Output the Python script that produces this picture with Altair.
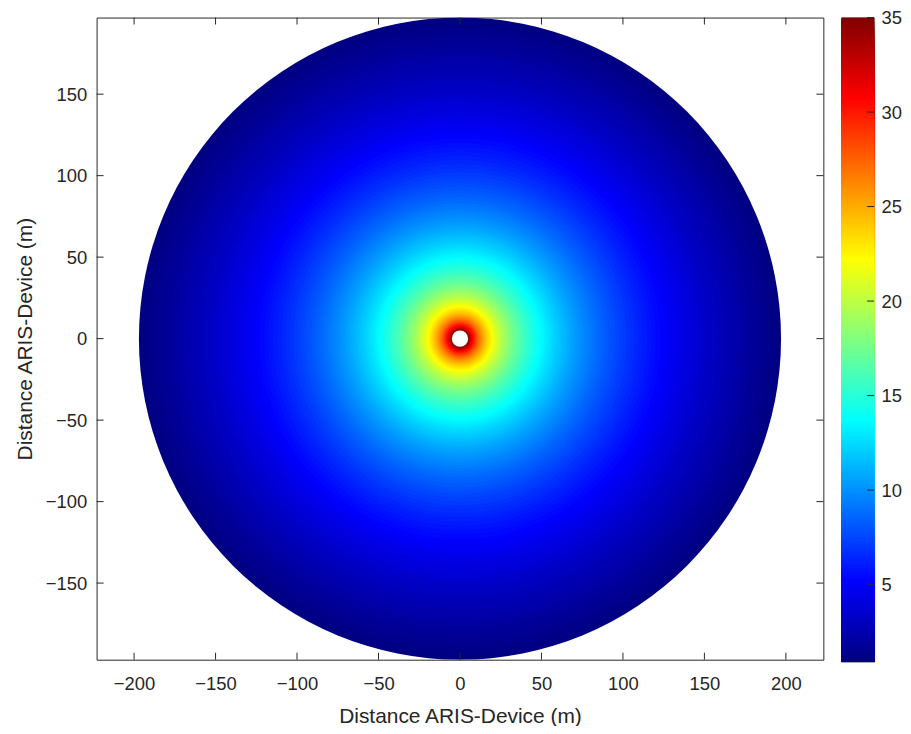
import math
import altair as alt
import pandas as pd
import numpy as np

# ---- data -----------------------------------------------------------------
# ring radius (m) and the value shown at that radius
RADII = [5.012, 5.129, 5.248, 5.370, 5.495, 5.623, 5.754, 5.888, 6.026, 6.166,
         6.310, 6.457, 6.607, 6.761, 6.918, 7.079, 7.244, 7.413, 7.586, 7.762,
         7.943, 8.128, 8.318, 8.511, 8.710, 8.913, 9.120, 9.333, 9.550, 9.772,
         10.00, 10.23, 10.47, 10.72, 10.96, 11.22, 11.48, 11.75, 12.02, 12.30,
         12.59, 12.88, 13.18, 13.49, 13.80, 14.13, 14.45, 14.79, 15.14, 15.49,
         15.85, 16.22, 16.60, 16.98, 17.38, 17.78, 18.20, 18.62, 19.05, 19.50,
         19.95, 20.42, 20.89, 21.38, 21.88, 22.39, 22.91, 23.44, 23.99, 24.55,
         25.12, 25.70, 26.30, 26.92, 27.54, 28.18, 28.84, 29.51, 30.20, 30.90,
         31.62, 32.36, 33.11, 33.88, 34.67, 35.48, 36.31, 37.15, 38.02, 38.90,
         39.81, 40.74, 41.69, 42.66, 43.65, 44.67, 45.71, 46.77, 47.86, 48.98,
         50.12, 51.29, 52.48, 53.70, 54.95, 56.23, 57.54, 58.88, 60.26, 61.66,
         63.10, 64.57, 66.07, 67.61, 69.18, 70.79, 72.44, 74.13, 75.86, 77.62,
         79.43, 81.28, 83.18, 85.11, 87.10, 89.13, 91.20, 93.33, 95.50, 97.72,
         100.0, 102.3, 104.7, 107.2, 109.6, 112.2, 114.8, 117.5, 120.2, 123.0,
         125.9, 128.8, 131.8, 134.9, 138.0, 141.3, 144.5, 147.9, 151.4, 154.9,
         158.5, 162.2, 166.0, 169.8, 173.8, 177.8, 182.0, 186.2, 190.5, 195.0,
         197.0]
VALUES = [34.98, 34.77, 34.55, 34.34, 34.13, 33.91, 33.70, 33.49, 33.27, 33.06,
          32.85, 32.63, 32.42, 32.21, 32.00, 31.78, 31.57, 31.36, 31.14, 30.93,
          30.72, 30.51, 30.29, 30.08, 29.87, 29.65, 29.44, 29.23, 29.01, 28.80,
          28.59, 28.38, 28.16, 27.95, 27.74, 27.52, 27.31, 27.10, 26.88, 26.67,
          26.46, 26.25, 26.03, 25.82, 25.61, 25.39, 25.18, 24.97, 24.75, 24.54,
          24.33, 24.12, 23.90, 23.69, 23.48, 23.26, 23.05, 22.84, 22.62, 22.41,
          22.20, 21.99, 21.77, 21.56, 21.35, 21.13, 20.92, 20.71, 20.49, 20.28,
          20.07, 19.86, 19.64, 19.43, 19.22, 19.00, 18.79, 18.58, 18.36, 18.15,
          17.94, 17.73, 17.51, 17.30, 17.09, 16.87, 16.66, 16.45, 16.23, 16.02,
          15.81, 15.60, 15.38, 15.17, 14.96, 14.74, 14.53, 14.32, 14.10, 13.89,
          13.68, 13.47, 13.25, 13.04, 12.83, 12.61, 12.40, 12.19, 11.97, 11.76,
          11.55, 11.34, 11.12, 10.91, 10.70, 10.48, 10.27, 10.06, 9.84, 9.63,
          9.42, 9.21, 8.99, 8.78, 8.57, 8.35, 8.14, 7.93, 7.71, 7.50,
          7.29, 7.08, 6.86, 6.65, 6.44, 6.22, 6.01, 5.80, 5.58, 5.37,
          5.16, 4.95, 4.73, 4.52, 4.31, 4.09, 3.88, 3.67, 3.45, 3.24,
          3.03, 2.82, 2.60, 2.39, 2.18, 1.96, 1.75, 1.54, 1.32, 1.11,
          0.92]
HOLE_RADIUS = [5.0]

X_TICKS = [-200, -150, -100, -50, 0, 50, 100, 150, 200]
Y_TICKS = [-150, -100, -50, 0, 50, 100, 150]
CBAR_TICKS = [5, 10, 15, 20, 25, 30, 35]

X_DOMAIN = [-223, 223]
Y_DOMAIN = [-197, 197]
V_MIN, V_MAX = 0.92, 35.0

AXIS_TITLE = "Distance ARIS-Device (m)"

# ---- styling ---------------------------------------------------------------
W, H = 730, 645
CB_W, CB_H = 33, 647
TICK_LEN = 7
AX = "#262626"
FONT = "Liberation Sans"
LABEL_SIZE = 18.5
TITLE_SIZE = 21

JET_POS = [0.0, 0.125, 0.375, 0.625, 0.875, 1.0]
JET_COLORS = ["#000080", "#0000ff", "#00ffff", "#ffff00", "#ff0000", "#800000"]
jet_domain = [V_MIN + p * (V_MAX - V_MIN) for p in JET_POS]
color_scale = alt.Scale(domain=jet_domain, range=JET_COLORS, interpolate="rgb")

xscale = alt.Scale(domain=X_DOMAIN, nice=False, zero=False)
yscale = alt.Scale(domain=Y_DOMAIN, nice=False, zero=False)
rscale = alt.Scale(type="linear", domain=[0, Y_DOMAIN[1]], range=[0, H / 2])

x_axis = alt.Axis(values=X_TICKS, title=AXIS_TITLE, ticks=False, domain=False,
                  grid=False, labelPadding=15, titlePadding=13, labelFlush=False,
                  labelOverlap=False)
y_axis = alt.Axis(values=Y_TICKS, title=AXIS_TITLE, ticks=False, domain=False,
                  grid=False, labelPadding=10, titlePadding=10, labelFlush=False,
                  labelOverlap=False)

rings = pd.DataFrame({"r": RADII, "v": VALUES}).sort_values("r", ascending=False)
hole = pd.DataFrame({"r": HOLE_RADIUS})

disks = alt.Chart(rings).mark_arc(theta=0, theta2=2 * math.pi, clip=True).encode(
    x=alt.XDatum(0, scale=xscale, axis=x_axis),
    y=alt.YDatum(0, scale=yscale, axis=y_axis),
    radius=alt.Radius("r:Q", scale=rscale, stack=False),
    color=alt.Color("v:Q", scale=color_scale, legend=None),
)

hole_layer = alt.Chart(hole).mark_arc(theta=0, theta2=2 * math.pi, color="white").encode(
    x=alt.XDatum(0, scale=xscale, axis=x_axis),
    y=alt.YDatum(0, scale=yscale, axis=y_axis),
    radius=alt.Radius("r:Q", scale=rscale, stack=False),
)

xt = pd.DataFrame({"t": X_TICKS})
yt = pd.DataFrame({"t": Y_TICKS})

bottom_ticks = alt.Chart(xt).mark_rule(color=AX, strokeWidth=1).encode(
    x=alt.X("t:Q", scale=xscale, axis=x_axis),
    y=alt.value(H), y2=alt.value(H - TICK_LEN),
)
top_ticks = alt.Chart(xt).mark_rule(color=AX, strokeWidth=1).encode(
    x=alt.X("t:Q", scale=xscale, axis=x_axis),
    y=alt.value(0), y2=alt.value(TICK_LEN),
)
left_ticks = alt.Chart(yt).mark_rule(color=AX, strokeWidth=1).encode(
    y=alt.Y("t:Q", scale=yscale, axis=y_axis),
    x=alt.value(0), x2=alt.value(TICK_LEN),
)
right_ticks = alt.Chart(yt).mark_rule(color=AX, strokeWidth=1).encode(
    y=alt.Y("t:Q", scale=yscale, axis=y_axis),
    x=alt.value(W - TICK_LEN), x2=alt.value(W),
)

main = alt.layer(disks, hole_layer, bottom_ticks, top_ticks, left_ticks, right_ticks).properties(
    width=W, height=H
)

# ---- colorbar --------------------------------------------------------------
levels = np.linspace(V_MIN, V_MAX, 341)
cb = pd.DataFrame({"hi": levels[1:], "mid": (levels[:-1] + levels[1:]) / 2})
cb["base"] = V_MIN
cb = cb.sort_values("hi", ascending=False)

cyscale = alt.Scale(domain=[V_MIN, V_MAX], nice=False, zero=False)
cb_axis = alt.Axis(orient="right", values=CBAR_TICKS, ticks=False, domain=False,
                   grid=False, title=None, labelPadding=7, labelFlush=False,
                   labelOverlap=False)

cbar_rects = alt.Chart(cb).mark_rect().encode(
    y=alt.Y("hi:Q", scale=cyscale, axis=cb_axis),
    y2="base:Q",
    x=alt.value(0), x2=alt.value(CB_W),
    color=alt.Color("mid:Q", scale=color_scale, legend=None),
)
cbt = pd.DataFrame({"t": CBAR_TICKS})
cbar_ticks = alt.Chart(cbt).mark_rule(color=AX, strokeWidth=1).encode(
    y=alt.Y("t:Q", scale=cyscale, axis=cb_axis),
    x=alt.value(CB_W - TICK_LEN), x2=alt.value(CB_W),
)
cbar = alt.layer(cbar_rects, cbar_ticks).properties(
    width=CB_W, height=CB_H,
    view=alt.ViewBackground(stroke="#7a7a7a", strokeWidth=1),
)

chart = alt.hconcat(main, cbar, spacing=16, background="white",
                    padding={"left": 5, "top": -2, "right": 0, "bottom": -3}).configure_view(
    stroke=AX, strokeWidth=1
).configure_axis(
    labelFont=FONT, titleFont=FONT, labelFontSize=LABEL_SIZE, titleFontSize=TITLE_SIZE,
    labelColor=AX, titleColor=AX, titleFontWeight="normal",
)

chart.save("out.html", embed_options={"renderer": "svg", "actions": False})
